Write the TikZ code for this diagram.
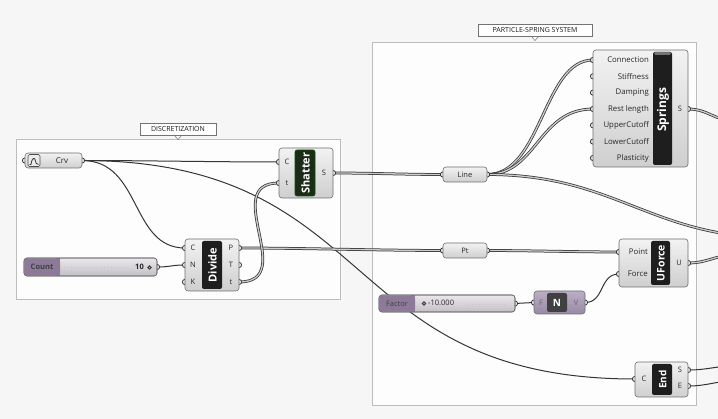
\documentclass[tikz,border=0pt]{standalone}
\usepackage{fontspec}
\setmainfont{Open Sans}
\definecolor{bgc}{HTML}{F6F6F6}
\definecolor{grpfill}{HTML}{FDFDFD}
\definecolor{grpline}{HTML}{BDBDBD}
\definecolor{wirec}{HTML}{353535}
\definecolor{bodyline}{HTML}{6E6E6E}
\definecolor{bandc}{HTML}{1E1E1E}
\definecolor{shbandc}{HTML}{1D2A17}
\definecolor{sldark}{HTML}{8C7A98}
\definecolor{sllight}{HTML}{E6E2E8}
\definecolor{negfill}{HTML}{A999B6}
\definecolor{labtxt}{HTML}{262626}
\begin{document}
\begin{tikzpicture}[x=1pt,y=-1pt,
  wire/.style={draw=wirec, line width=1pt},
  lwire/.style={draw=wirec, line width=0.75pt, double=black!20, double distance=1.3pt},
  gripst/.style={draw=black!80, fill=black!6, line width=0.8pt},
  comp/.style={draw=bodyline, line width=0.6pt, rounded corners=3pt, top color=black!5, bottom color=black!19, inner sep=0pt},
  bandbox/.style={fill=bandc, rounded corners=2pt, inner sep=0pt},
  bandtxt/.style={text=white, font=\bfseries\fontsize{11}{11}\selectfont, rotate=90, inner sep=0pt},
  plab/.style={font=\fontsize{7.5}{8}\selectfont, text=labtxt, inner sep=0pt},
  plabr/.style={font=\fontsize{7.8}{8}\selectfont, text=labtxt, inner sep=0pt, anchor=east},
  grp/.style={draw=grpline, fill=grpfill, line width=0.6pt},
  grplab/.style={draw=black!55, fill=white, line width=0.5pt, font=\fontsize{7}{8}\selectfont, text=black!90, inner sep=0pt},
  slidertxt/.style={font=\fontsize{7.5}{8}\selectfont, text=black!85, inner sep=0pt}
]
\clip (0,0) rectangle (718,419);
\fill[bgc] (0,0) rectangle (718,419);

% ---------- groups ----------
\draw[grp] (16,139) rectangle (340,299);
\draw[grp] (372,42) rectangle (696,405);
\filldraw[draw=black!55, fill=white, line width=0.5pt] (174,135) -- (178,139.5) -- (182,135) -- cycle;
\node[grplab, minimum width=76pt, minimum height=12pt] (gdisc) at (178,129) {DISCRETIZATION};
\filldraw[draw=black!55, fill=white, line width=0.5pt] (531,36) -- (535,40.5) -- (539,36) -- cycle;
\node[grplab, minimum width=114pt, minimum height=12pt] (gpss) at (535,30) {PARTICLE-SPRING SYSTEM};

% ---------- ports ----------
\coordinate (crv-in) at (25,160.5);
\coordinate (crv-out) at (82,160.5);
\coordinate (cnt-out) at (157,267);
\coordinate (div-C) at (185,248);
\coordinate (div-N) at (185,265);
\coordinate (div-K) at (185,282);
\coordinate (div-P) at (239,248);
\coordinate (div-T) at (239,265);
\coordinate (div-t) at (239,282);
\coordinate (sh-C) at (279,162);
\coordinate (sh-t) at (279,183);
\coordinate (sh-S) at (333,173);
\coordinate (line-in) at (443,174.5);
\coordinate (line-out) at (487,174.5);
\coordinate (pt-in) at (443,250.5);
\coordinate (pt-out) at (487,250.5);
\coordinate (spr-1) at (593,60);
\coordinate (spr-2) at (593,76.3);
\coordinate (spr-3) at (593,92.6);
\coordinate (spr-4) at (593,109);
\coordinate (spr-5) at (593,125.3);
\coordinate (spr-6) at (593,141.6);
\coordinate (spr-7) at (593,158);
\coordinate (spr-out) at (688,109);
\coordinate (uf-P) at (619,252);
\coordinate (uf-F) at (619,274);
\coordinate (uf-U) at (688,263);
\coordinate (fac-out) at (515,303.5);
\coordinate (neg-in) at (534,302.5);
\coordinate (neg-out) at (585,302.5);
\coordinate (end-C) at (635,379);
\coordinate (end-S) at (688,370);
\coordinate (end-E) at (688,386);
\coordinate (offA) at (780,238);
\coordinate (offB) at (735,121);
\coordinate (offC) at (735,255);
\coordinate (offD) at (735,366);
\coordinate (offE) at (735,381);

% ---------- wires ----------
\draw[wire] (crv-out) .. controls +(60,0) and +(-60,0) .. (sh-C);
\draw[wire] (crv-out) .. controls +(60,0) and +(-55,0) .. (div-C);
\draw[wire] (crv-out) .. controls +(300,0) and +(-300,0) .. (end-C);
\draw[wire] (cnt-out) .. controls +(14,0) and +(-14,0) .. (div-N);
\draw[lwire] (div-P) .. controls +(60,0) and +(-60,0) .. (pt-in);
\draw[lwire] (div-t) .. controls +(60,0) and +(-60,0) .. (sh-t);
\draw[lwire] (sh-S) .. controls +(40,0) and +(-40,0) .. (line-in);
\draw[lwire] (line-out) .. controls +(55,0) and +(-50,0) .. (spr-1);
\draw[lwire] (line-out) .. controls +(50,0) and +(-55,0) .. (spr-4);
\draw[lwire] (line-out) .. controls +(130,0) and +(-130,0) .. (offA);
\draw[lwire] (spr-out) .. controls +(20,0) and +(-20,0) .. (offB);
\draw[lwire] (pt-out) .. controls +(40,0) and +(-40,0) .. (uf-P);
\draw[wire] (fac-out) .. controls +(10,0) and +(-10,0) .. (neg-in);
\draw[wire] (neg-out) .. controls +(20,0) and +(-20,0) .. (uf-F);
\draw[lwire] (uf-U) .. controls +(20,0) and +(-20,0) .. (offC);
\draw[wire] (end-S) .. controls +(20,0) and +(-20,0) .. (offD);
\draw[wire] (end-E) .. controls +(20,0) and +(-20,0) .. (offE);

% ---------- grips ----------
\foreach \p in {crv-in,crv-out,cnt-out,div-C,div-N,div-K,div-P,div-T,div-t,sh-C,sh-t,sh-S,
  line-in,line-out,pt-in,pt-out,spr-1,spr-2,spr-3,spr-4,spr-5,spr-6,spr-7,spr-out,
  uf-P,uf-F,uf-U,fac-out,neg-in,neg-out,end-C,end-S,end-E}
  \draw[gripst] (\p) circle[radius=2.6];

% ---------- Crv ----------
\node[comp, minimum width=57pt, minimum height=15pt] (crv) at (53.5,160.5) {};
\draw[draw=black!70, fill=black!8, rounded corners=1.5pt, line width=0.6pt] (28,154.5) rectangle (40,166.5);
\draw[black!80, line width=0.8pt] (29.5,164.5) -- (31,164.5) .. controls (32,157) and (35,157) .. (35.5,161) .. controls (36,163.5) .. (38.5,164.5);
\node[font=\fontsize{8}{9}\selectfont, text=labtxt, inner sep=0pt] (crvtxt) at (62,160.5) {Crv};

% ---------- Count slider ----------
\node[comp, minimum width=133pt, minimum height=18pt, top color=sllight!80!white, bottom color=sllight!85!black] (cnt) at (90.5,267) {};
\fill[sldark, rounded corners=3pt] (24.3,258.3) rectangle (60,275.7);
\fill[sldark] (56,258.3) rectangle (60,275.7);
\draw[draw=bodyline, line width=0.6pt, rounded corners=3pt] (24,258) rectangle (157,276);
\node[slidertxt, font=\bfseries\fontsize{7.5}{8}\selectfont, text=black!75] (cnttxt) at (42,267) {Count};
\draw[black!22, line width=0.5pt, dash pattern=on 0.6pt off 3pt] (64,267.5) -- (128,267.5);
\node[slidertxt, anchor=east, font=\bfseries\fontsize{7.5}{8}\selectfont] (cntval) at (144,267) {10};
\draw[black!75, line width=1pt] (149.5,267.5) circle[radius=1.7];

% ---------- Divide ----------
\node[comp, minimum width=54pt, minimum height=52pt] (div) at (212,265) {};
\node[bandbox, minimum width=20pt, minimum height=48pt] (divband) at (212,265) {};
\node[bandtxt] (divtxt) at (212.5,265) {Divide};
\node[plab] (divlC) at (193,248) {C};
\node[plab] (divlN) at (193,265) {N};
\node[plab] (divlK) at (193,282) {K};
\node[plab] (divlP) at (231,248) {P};
\node[plab] (divlT) at (231,265) {T};
\node[plab] (divlt) at (231,282) {t};

% ---------- Shatter ----------
\node[comp, minimum width=54pt, minimum height=50pt] (sh) at (306,173) {};
\node[bandbox, fill=shbandc, draw=green!35!black, line width=0.6pt, minimum width=20pt, minimum height=46pt] (shband) at (305,173) {};
\node[bandtxt] (shtxt) at (305.5,173) {Shatter};
\node[plab] (shlC) at (287,162) {C};
\node[plab] (shlt) at (287,183) {t};
\node[plab] (shlS) at (324,173) {S};

% ---------- Line / Pt ----------
\node[comp, minimum width=44pt, minimum height=15pt] (line) at (465,174.5) {};
\node[plab] (linetxt) at (465,174.5) {Line};
\node[comp, minimum width=44pt, minimum height=15pt] (pt) at (465,250.5) {};
\node[plab] (pttxt) at (465,250.5) {Pt};

% ---------- Springs ----------
\node[comp, minimum width=95pt, minimum height=117pt] (spr) at (640.5,108.5) {};
\node[bandbox, minimum width=19pt, minimum height=113pt] (sprband) at (662.5,108.5) {};
\fill[black!55, rounded corners=1.5pt] (654,52) rectangle (671,55);
\node[bandtxt, font=\bfseries\fontsize{12}{12}\selectfont] (sprtxt) at (663,110) {Springs};
\node[plabr] (sprl1) at (649,60) {Connection};
\node[plabr] (sprl2) at (649,76.3) {Stiffness};
\node[plabr] (sprl3) at (649,92.6) {Damping};
\node[plabr] (sprl4) at (649,109) {Rest length};
\node[plabr] (sprl5) at (649,125.3) {UpperCutoff};
\node[plabr] (sprl6) at (649,141.6) {LowerCutoff};
\node[plabr] (sprl7) at (649,158) {Plasticity};
\node[plab] (sprlS) at (680,109) {S};

% ---------- UForce ----------
\node[comp, minimum width=69pt, minimum height=48pt] (uf) at (653.5,263) {};
\node[bandbox, minimum width=19pt, minimum height=44pt] (ufband) at (660.5,263) {};
\node[bandtxt, font=\bfseries\fontsize{10.5}{11}\selectfont] (uftxt) at (661,263) {UForce};
\node[plabr] (ufl1) at (648,252) {Point};
\node[plabr] (ufl2) at (648,274) {Force};
\node[plab] (uflU) at (679,263) {U};

% ---------- Factor slider ----------
\node[comp, minimum width=136pt, minimum height=17pt, top color=sllight!80!white, bottom color=sllight!85!black] (fac) at (447,303.5) {};
\fill[sldark, rounded corners=3pt] (379.3,295.3) rectangle (415,311.7);
\fill[sldark] (411,295.3) rectangle (415,311.7);
\draw[draw=bodyline, line width=0.6pt, rounded corners=3pt] (379,295) rectangle (515,312);
\node[slidertxt, text=black!75] (factxt) at (397,303.5) {Factor};
\draw[black!75, line width=1pt] (424,303.5) circle[radius=1.7];
\node[slidertxt, anchor=west] (facval) at (428,303) {-10.000};
\draw[black!22, line width=0.5pt, dash pattern=on 0.6pt off 3pt] (468,304) -- (505,304);

% ---------- Negative ----------
\node[comp, minimum width=51pt, minimum height=23pt, top color=negfill!80!white, bottom color=negfill!90!black] (neg) at (559.5,302.5) {};
\node[bandbox, fill=black!75, minimum width=20pt, minimum height=19pt] (negband) at (557,302.5) {};
\node[text=white, font=\bfseries\fontsize{10}{11}\selectfont, inner sep=0pt] (negtxt) at (557,302.5) {N};
\node[plab, text=black!60] (neglF) at (541,302.5) {F};
\node[plab, text=black!60] (neglV) at (576,302.5) {V};

% ---------- End ----------
\node[comp, minimum width=53pt, minimum height=35pt] (end) at (661.5,379.5) {};
\node[bandbox, minimum width=20pt, minimum height=31pt] (endband) at (662,379.5) {};
\node[bandtxt, font=\bfseries\fontsize{10}{10}\selectfont] (endtxt) at (662.5,379.5) {End};
\node[plab] (endlC) at (644,379) {C};
\node[plab] (endlS) at (680,370) {S};
\node[plab] (endlE) at (680,386) {E};
\end{tikzpicture}
\end{document}
